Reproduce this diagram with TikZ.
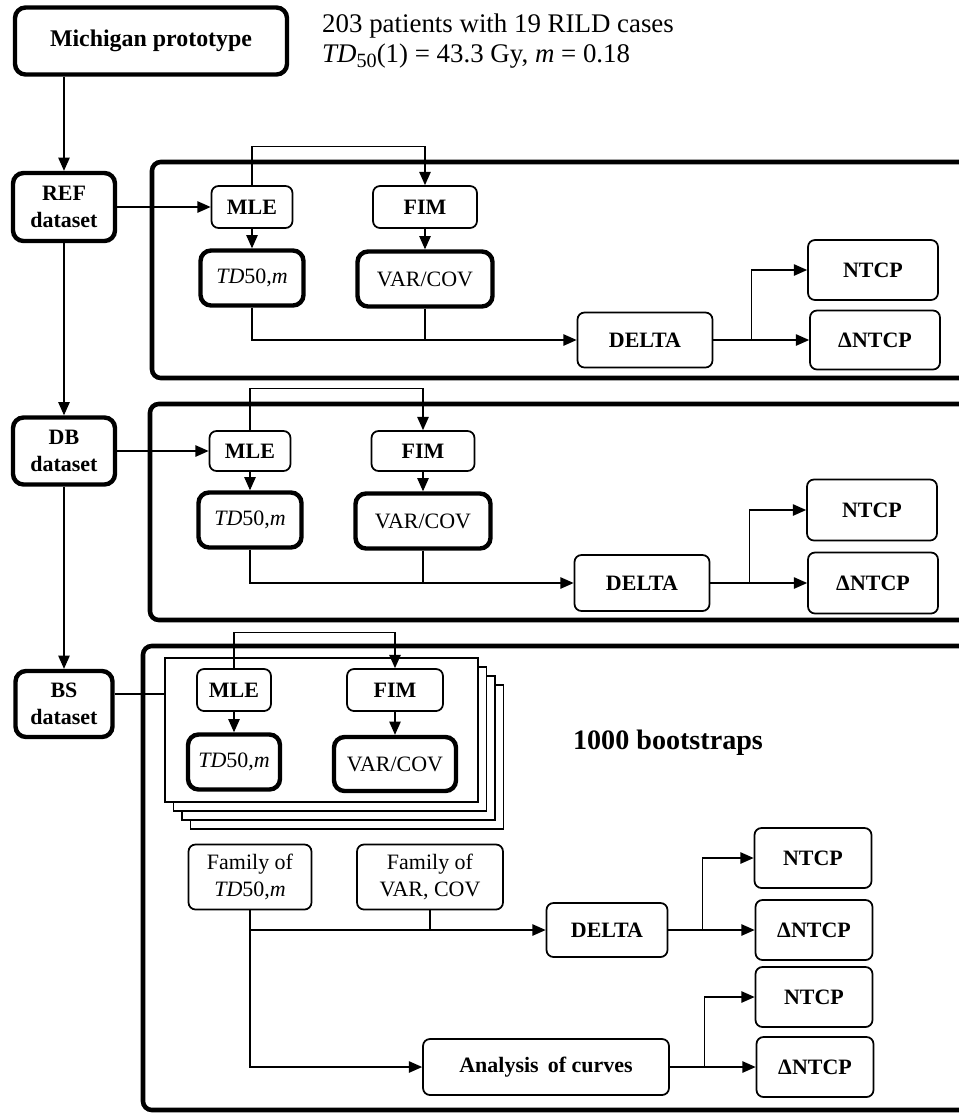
\documentclass[tikz,border=0pt]{standalone}
\usepackage{fontspec}
\setmainfont{Liberation Serif}
\usetikzlibrary{arrows.meta,positioning,calc}

\begin{document}
\begin{tikzpicture}[x=0.02cm,y=-0.02cm,
 font=\fontsize{12.5}{15}\selectfont,
 wh/.style 2 args={minimum width=#1*0.02cm,minimum height=#2*0.02cm},
 box/.style={draw,rounded corners=4pt,line width=1pt,align=center,inner sep=1pt,fill=white},
 bbox/.style={box,font=\fontsize{12.5}{15}\selectfont\bfseries},
 tbox/.style={draw,rounded corners=6pt,line width=2.5pt,align=center,inner sep=1pt,fill=white},
 frame/.style={draw,line width=2.6pt,rounded corners=5pt},
 line/.style={line width=.65pt},
 arr/.style={line,-{Triangle[length=7.5pt,width=6.5pt]}}]
\useasboundingbox (0,0) rectangle (959,1113);
% big frames
\draw[frame] (152,162) rectangle (985,378);
\draw[frame] (150,404) rectangle (985,620);
\draw[frame] (143,646) rectangle (985,1110);
% stack of bootstrap sheets
\foreach \k in {3,2,1}
  \draw[line width=.9pt,fill=white] (165+8.5*\k,658+9*\k) rectangle ++(313,144);
\node[draw,line width=.9pt,fill=white,inner sep=0,wh={313}{144}] (stack) at (321.5,730) {};

\node[tbox,wh={272}{67},font=\fontsize{13.6}{16}\selectfont\bfseries] (mich) at (151,41) {Michigan prototype};
\node[anchor=west,align=left,font=\fontsize{15.3}{17.5}\selectfont] (info) at (316,41) {203 patients with 19 RILD cases\\ \textit{TD}\raisebox{-.35ex}{\fontsize{11.5}{11}\selectfont 50}(1) = 43.3 Gy, \textit{m} = 0.18};
\node[tbox,wh={102}{68},font=\fontsize{12.5}{15}\selectfont\bfseries] (ref) at (64,207) {REF\\ dataset};
\node[tbox,wh={102}{67},font=\fontsize{12.5}{15}\selectfont\bfseries] (db) at (64,451) {DB\\ dataset};
\node[tbox,wh={97}{66},font=\fontsize{12.5}{15}\selectfont\bfseries] (bs) at (64,704) {BS\\ dataset};

% REF section
\node[bbox,wh={81}{42}] (mle1) at (252,207) {MLE};
\node[bbox,wh={104}{42}] (fim1) at (425,207) {FIM};
\node[tbox,wh={103}{55}] (td1) at (252,278) {\textit{TD}50,\textit{m}};
\node[tbox,wh={135}{55}] (vc1) at (425,279) {VAR/COV};
\node[bbox,wh={135}{55}] (delta1) at (645,340) {DELTA};
\node[bbox,wh={130}{60}] (ntcp1) at (873,270) {NTCP};
\node[bbox,wh={130}{59}] (dntcp1) at (875,340) {ΔNTCP};

% DB section
\node[bbox,wh={81}{40}] (mle2) at (250,451) {MLE};
\node[bbox,wh={103}{40}] (fim2) at (423,451) {FIM};
\node[tbox,wh={103}{55}] (td2) at (250,520) {\textit{TD}50,\textit{m}};
\node[tbox,wh={135}{55}] (vc2) at (423,521) {VAR/COV};
\node[bbox,wh={135}{56}] (delta2) at (642,583) {DELTA};
\node[bbox,wh={130}{61}] (ntcp2) at (872,510) {NTCP};
\node[bbox,wh={130}{61}] (dntcp2) at (873,583) {ΔNTCP};

% BS section
\node[bbox,wh={74}{42}] (mle3) at (234,690) {MLE};
\node[bbox,wh={96}{42}] (fim3) at (395,690) {FIM};
\node[tbox,wh={92}{55}] (td3) at (234,762) {\textit{TD}50,\textit{m}};
\node[tbox,wh={122}{54}] (vc3) at (395,764) {VAR/COV};
\node[font=\fontsize{16}{19}\selectfont\bfseries] (boot) at (668,743) {1000 bootstraps};
\node[box,wh={123}{65}] (famtd) at (250,877) {Family of\\ \textit{TD}50,\textit{m}};
\node[box,wh={146}{65}] (famvc) at (430,877) {Family of\\ VAR, COV};
\node[bbox,wh={121}{54}] (delta3) at (607,930) {DELTA};
\node[bbox,wh={117}{60}] (ntcp3a) at (813,858) {NTCP};
\node[bbox,wh={117}{60}] (dntcp3a) at (814,930) {ΔNTCP};
\node[bbox,wh={246}{56}] (curves) at (546,1067) {Analysis\, of curves};
\node[bbox,wh={117}{60}] (ntcp3b) at (814,997) {NTCP};
\node[bbox,wh={117}{60}] (dntcp3b) at (815,1067) {ΔNTCP};

% dataset chain
\draw[arr] (mich.south -| ref) -- (ref);
\draw[arr] (ref) -- (db);
\draw[arr] (db) -- (bs);
\draw[arr] (ref) -- (mle1);
\draw[arr] (db) -- (mle2);
\draw[line] (bs.east |- 0,694) -- (stack.west |- 0,694);

% REF flow
\draw[arr] (mle1.north) -- ++(0,-39) -| (fim1.north);
\draw[arr] (mle1) -- (td1);
\draw[arr] (fim1) -- (vc1);
\draw[arr] (td1.south) |- (delta1.west);
\draw[line] (vc1.south) -- (vc1.south |- delta1.west);
\draw[arr] (delta1.east) -- (dntcp1.west);
\draw[arr] ($(delta1.east)!.4!(dntcp1.west)$) |- (ntcp1.west);

% DB flow
\draw[arr] (mle2.north) -- ++(0,-42) -| (fim2.north);
\draw[arr] (mle2) -- (td2);
\draw[arr] (fim2) -- (vc2);
\draw[arr] (td2.south) |- (delta2.west);
\draw[line] (vc2.south) -- (vc2.south |- delta2.west);
\draw[arr] (delta2.east) -- (dntcp2.west);
\draw[arr] ($(delta2.east)!.4!(dntcp2.west)$) |- (ntcp2.west);

% BS flow
\draw[arr] (mle3.north) -- ++(0,-36) -| (fim3.north);
\draw[arr] (mle3) -- (td3);
\draw[arr] (fim3) -- (vc3);
\draw[arr] (famtd.south) |- (delta3.west);
\draw[line] (famvc.south) -- (famvc.south |- delta3.west);
\draw[arr] (delta3.east) -- (dntcp3a.west);
\draw[arr] ($(delta3.east)!.4!(dntcp3a.west)$) |- (ntcp3a.west);
\draw[arr] (famtd.south) |- (curves.west);
\draw[arr] (curves.east) -- (dntcp3b.west);
\draw[arr] ($(curves.east)!.4!(dntcp3b.west)$) |- (ntcp3b.west);
\end{tikzpicture}
\end{document}
